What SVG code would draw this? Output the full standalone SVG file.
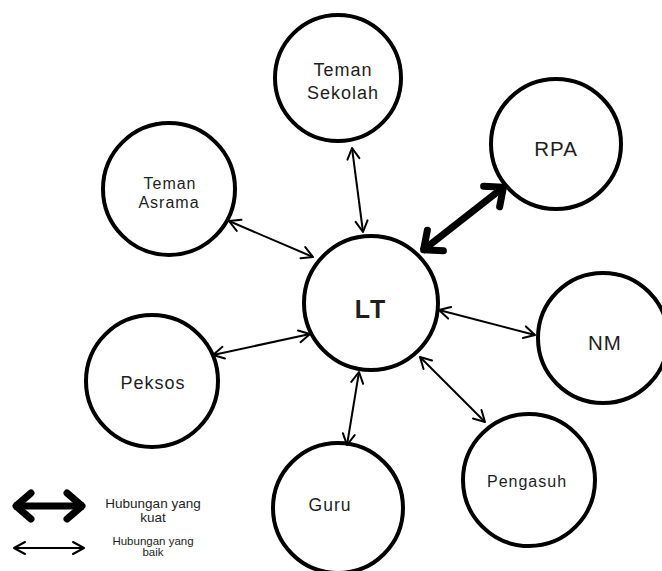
<svg xmlns="http://www.w3.org/2000/svg" width="662" height="571" viewBox="0 0 662 571">
<defs>
<marker id="thin" markerUnits="userSpaceOnUse" markerWidth="30" markerHeight="30" refX="0" refY="0" viewBox="-15 -15 30 30" orient="auto-start-reverse">
<path d="M -11 -6 L 0 0 L -11 6" fill="none" stroke="#000" stroke-width="2" stroke-linecap="round" stroke-linejoin="round"/>
</marker>
<marker id="thick" markerUnits="userSpaceOnUse" markerWidth="50" markerHeight="50" refX="0" refY="0" viewBox="-25 -25 50 50" orient="auto-start-reverse">
<path d="M -17 -13 L -2 0 L -17 13" fill="none" stroke="#000" stroke-width="7" stroke-linecap="round" stroke-linejoin="round"/>
</marker>
<style>
.node circle{fill:#fff;stroke:#000;stroke-width:4}
.node text{font-family:"Liberation Sans",Arial,sans-serif;fill:#1e1e1e;text-anchor:middle;letter-spacing:1px}
.thin{stroke:#000;stroke-width:2;fill:none;marker-start:url(#thin);marker-end:url(#thin)}
.thick{stroke:#000;stroke-width:7;fill:none;marker-start:url(#thick);marker-end:url(#thick)}
.leg{font-family:"Liberation Sans",Arial,sans-serif;fill:#1e1e1e;text-anchor:middle}
</style>
</defs>
<rect width="662" height="571" fill="#fff"/>
<g id="nodes">
<g id="node-lt" class="node"><circle cx="371" cy="303" r="67"/><text x="371" y="318" font-size="25" font-weight="bold" style="letter-spacing:2px">LT</text></g>
<g id="node-teman-sekolah" class="node"><circle cx="338" cy="78" r="63"/><text x="343" y="76" font-size="18">Teman</text><text x="343" y="99" font-size="18">Sekolah</text></g>
<g id="node-rpa" class="node"><circle cx="556" cy="144" r="65"/><text x="556" y="156" font-size="20.5">RPA</text></g>
<g id="node-teman-asrama" class="node"><circle cx="169" cy="189" r="66"/><text x="170" y="189" font-size="16">Teman</text><text x="169" y="208" font-size="16">Asrama</text></g>
<g id="node-peksos" class="node"><circle cx="152" cy="381" r="66"/><text x="153" y="389" font-size="18">Peksos</text></g>
<g id="node-guru" class="node"><circle cx="338" cy="508" r="65"/><text x="330" y="511" font-size="17.5">Guru</text></g>
<g id="node-nm" class="node"><circle cx="603" cy="338" r="65"/><text x="605" y="350" font-size="20.5">NM</text></g>
<g id="node-pengasuh" class="node"><circle cx="529" cy="480" r="66"/><text x="527" y="487" font-size="16">Pengasuh</text></g>
</g>
<g id="connectors">
<line class="thin" x1="352" y1="148" x2="363" y2="232"/>
<line class="thin" x1="229" y1="221" x2="313" y2="257"/>
<line class="thin" x1="213" y1="355" x2="310" y2="334"/>
<line class="thin" x1="359" y1="372" x2="347" y2="445"/>
<line class="thin" x1="439" y1="310" x2="535" y2="335"/>
<line class="thin" x1="420" y1="357" x2="485" y2="422"/>
<line class="thick" x1="505" y1="186" x2="422" y2="251"/>
</g>
<g id="legend">
<line class="thick" x1="14" y1="506" x2="84" y2="506"/>
<text class="leg" x="153" y="508" font-size="13.5">Hubungan yang</text>
<text class="leg" x="153" y="522" font-size="13.5">kuat</text>
<line class="thin" x1="14" y1="548" x2="84" y2="548"/>
<text class="leg" x="153" y="545" font-size="11.5">Hubungan yang</text>
<text class="leg" x="153" y="556" font-size="11.5">baik</text>
</g>
</svg>
